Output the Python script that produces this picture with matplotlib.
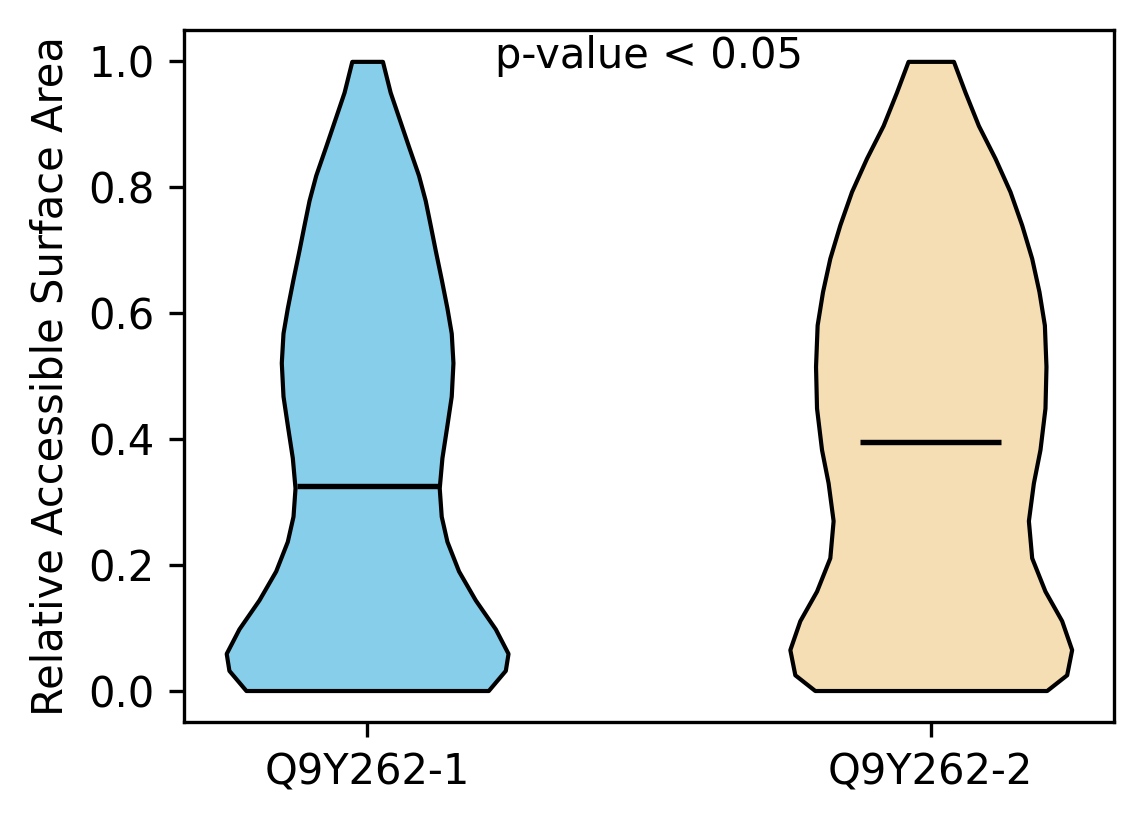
import numpy as np
import matplotlib
import matplotlib.pyplot as plt
matplotlib.use('Agg')

labels = ['Q9Y262-1', 'Q9Y262-2']
colors = ['skyblue', 'wheat']

# violin outlines: RSA value and relative density (half width)
coords_1 = [0.000, 0.032, 0.059, 0.098, 0.144, 0.190, 0.237, 0.277, 0.322, 0.370,
            0.422, 0.468, 0.521, 0.568, 0.608, 0.654, 0.700, 0.740, 0.779, 0.819,
            0.865, 0.912, 0.951, 1.000]
dens_1 = [121, 138, 140.7, 128, 108, 91.3, 79.7, 74, 72, 74.7,
          79.7, 84, 85.7, 84, 79.7, 74, 68, 63, 58, 51.3,
          41.3, 31.3, 23, 15.3]
median_1 = 0.325

coords_2 = [0.000, 0.025, 0.065, 0.111, 0.158, 0.211, 0.270, 0.330, 0.383, 0.449,
            0.515, 0.581, 0.634, 0.687, 0.740, 0.793, 0.846, 0.898, 0.951, 1.000]
dens_2 = [116, 136, 141, 131, 114.3, 101, 97.7, 102.7, 109.3, 114.3,
          115.3, 113.7, 108.3, 101, 91, 79.3, 64.3, 47.7, 34.3, 22.7]
median_2 = 0.395

vpstats = []
for c, d, m in [(coords_1, dens_1, median_1), (coords_2, dens_2, median_2)]:
    vpstats.append({'coords': np.array(c), 'vals': np.array(d, dtype=float),
                    'mean': m, 'median': m, 'min': min(c), 'max': max(c)})

fig = plt.figure(figsize=(3.813, 2.747), dpi=300)
ax = fig.add_axes([0.1608, 0.1238, 0.813, 0.8398])

parts = ax.violin(vpstats, positions=[1, 2], widths=0.5,
                  showmeans=False, showextrema=False, showmedians=True)
for body, col in zip(parts['bodies'], colors):
    body.set_facecolor(col)
    body.set_edgecolor('black')
    body.set_linewidth(1)
    body.set_alpha(1)
parts['cmedians'].set_color('black')
parts['cmedians'].set_linewidth(1.3)

ax.set_xticks([1, 2])
ax.set_xticklabels(labels)
ax.set_ylabel('Relative Accessible Surface Area')
ax.text(1.5, 0.99, 'p-value < 0.05', ha='center')

plt.savefig('out.png', dpi=300)
